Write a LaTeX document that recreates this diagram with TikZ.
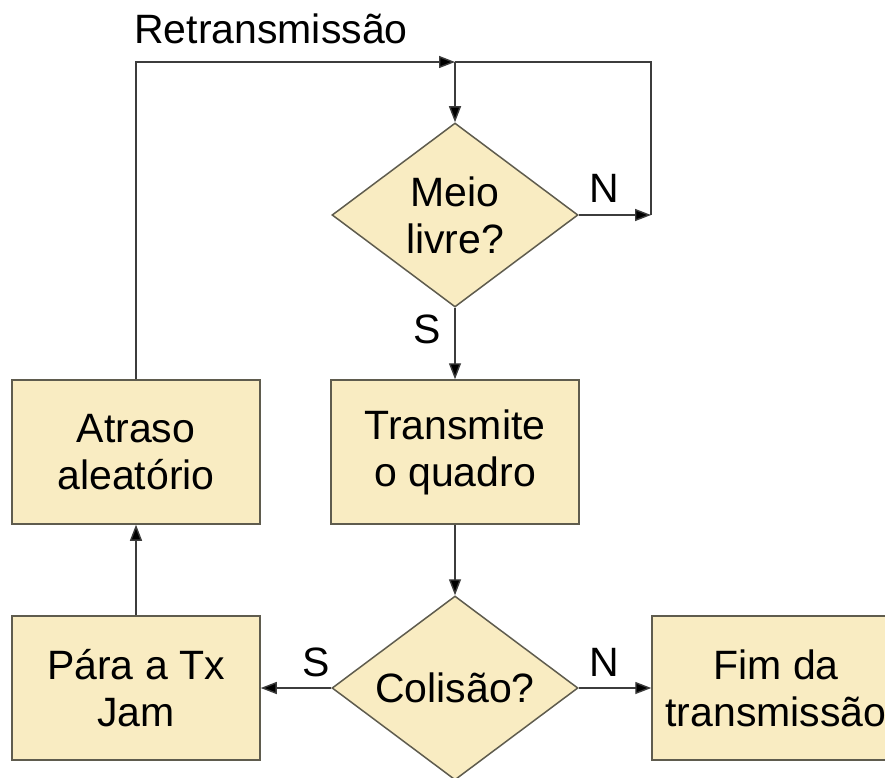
\documentclass[tikz,border=0pt]{standalone}
\usepackage{fontspec}
\setmainfont{Liberation Sans}
\usetikzlibrary{shapes.geometric,arrows.meta}
\definecolor{boxfill}{RGB}{249,236,194}
\definecolor{boxline}{RGB}{95,92,78}
\definecolor{wire}{RGB}{60,60,60}
\begin{document}
\begin{tikzpicture}[x=1pt,y=-1pt,
  txt/.style={font=\fontsize{41}{47}\selectfont, align=center},
  procbox/.style={txt, draw=boxline, line width=1.5pt, fill=boxfill, minimum width=248pt, minimum height=144pt, inner sep=0pt},
  decbox/.style={txt, diamond, aspect=1.337, draw=boxline, line width=1.5pt, fill=boxfill, minimum width=246pt, minimum height=184pt, inner sep=0pt},
  arr/.style={draw=wire, line width=1.4pt, -{Triangle[length=16pt,width=12pt,fill=black]}},
  wireline/.style={draw=wire, line width=1.4pt},
  lbl/.style={font=\fontsize{41}{47}\selectfont, inner sep=0pt}]
\useasboundingbox (0,0) rectangle (885,778);
\fill[white] (0,0) rectangle (885,778);

\node[decbox] (meio) at (455,215) {Meio\\livre?};
\node[procbox] (atraso) at (136,452) {Atraso\\aleatório};
\node[procbox] (trans) at (455,452) {Transmite\\o quadro};
\node[decbox] (col) at (455,688) {Colisão?};
\node[procbox] (para) at (136,688) {Pára a Tx\\Jam};
\node[procbox] (fim) at (776,688) {Fim da\\transmissão};

\coordinate (j1) at (455,62);
\coordinate (c1) at (651,215);

\draw[arr] (atraso.north) |- (j1);
\draw[arr] (j1) -- (meio.north);
\draw[arr] (meio.east) -- (c1);
\draw[wireline] (c1) |- (j1);
\draw[arr] (meio.south) -- (trans.north);
\draw[arr] (trans.south) -- (col.north);
\draw[arr] (col.west) -- (para.east);
\draw[arr] (col.east) -- (fim.west);
\draw[arr] (para.north) -- (atraso.south);

\node[lbl] (ret) at (271,29) {Retransmissão};
\node[lbl] (n1) at (604,188) {N};
\node[lbl] (s1) at (427,329) {S};
\node[lbl] (s2) at (316,662) {S};
\node[lbl] (n2) at (604,662) {N};
\end{tikzpicture}
\end{document}
